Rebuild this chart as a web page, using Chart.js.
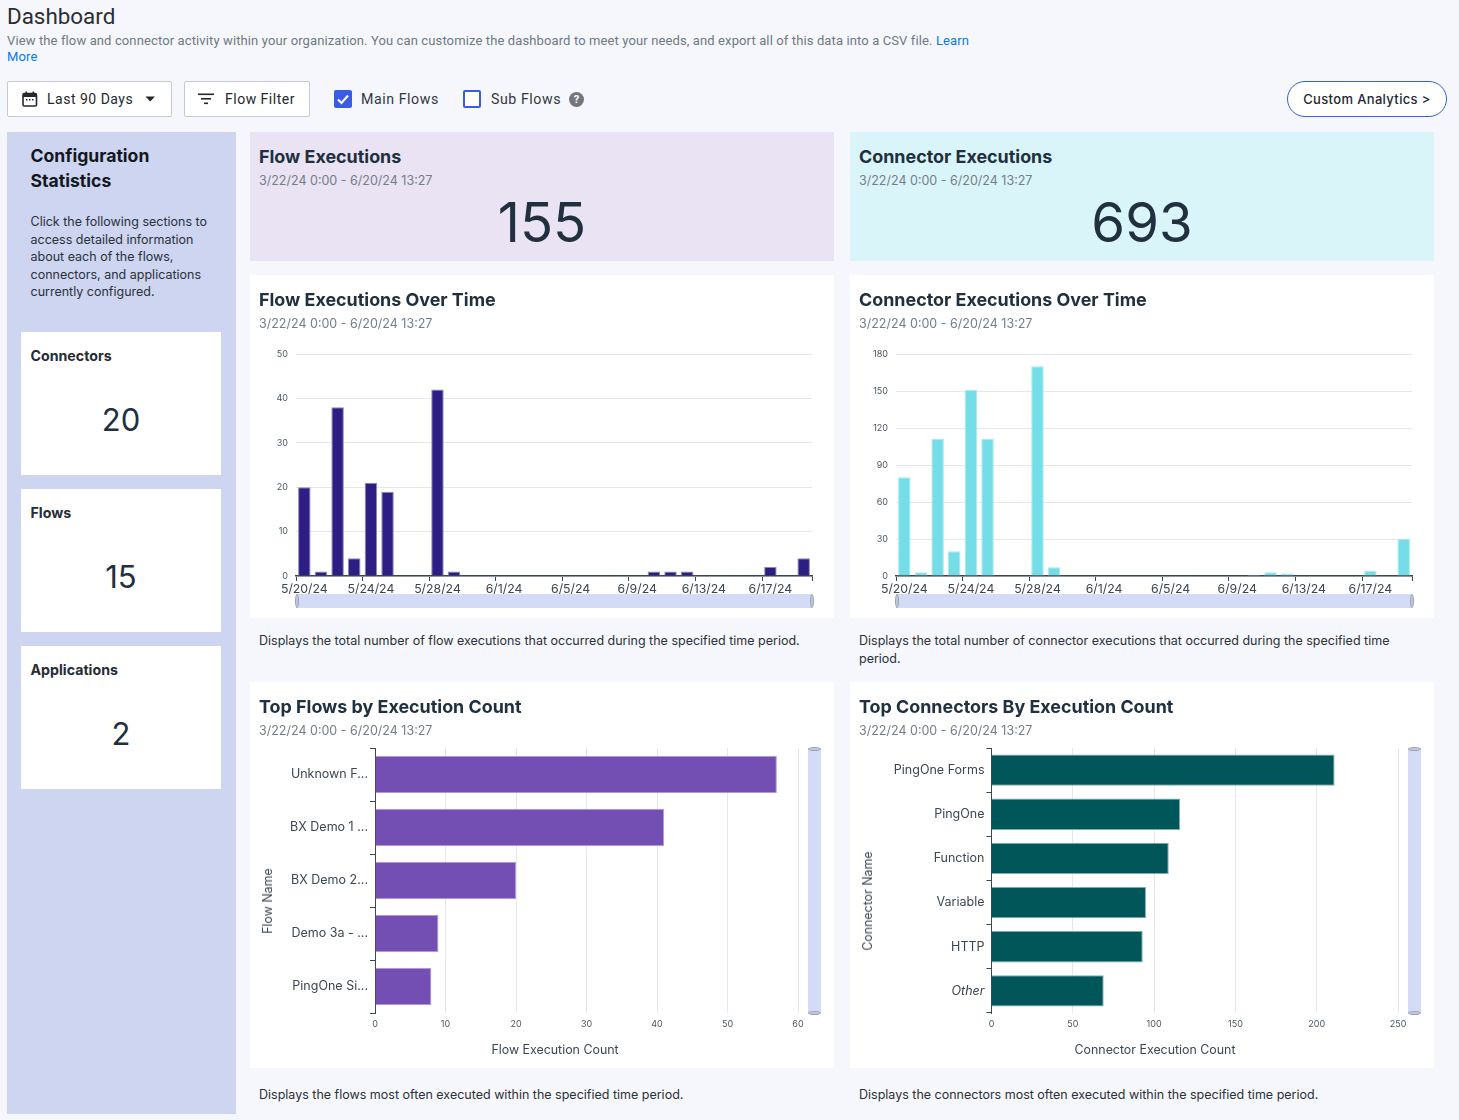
<!DOCTYPE html>
<html><head><meta charset="utf-8">
<script src="https://cdn.jsdelivr.net/npm/chart.js@4"></script>
<style>
html,body{margin:0;padding:0;background:#f6f7fc;width:1459px;height:1120px;overflow:hidden}
body{position:relative;font-family:Inter,sans-serif;color:#1f2d3a}
.a{position:absolute;white-space:nowrap}
.card{position:absolute}
.h{position:absolute;font:700 17.9px/22px Inter,sans-serif;color:#20303f;white-space:nowrap}
.d{position:absolute;font:400 12.5px/16px Inter,sans-serif;color:#757d87;white-space:nowrap;top:0;margin-top:1px}
.p{position:absolute;font:400 12.5px/17.5px Inter,sans-serif;color:#2b3138}
.n{position:absolute;font:400 54.5px/60px Inter,sans-serif;color:#20303f;text-align:center}
.btn{position:absolute;background:#fff;border:1px solid #c6c9d0;border-radius:2px;box-sizing:border-box;height:36px;top:81px;font:400 14px/34px Roboto,sans-serif;letter-spacing:.5px;color:#25282d}
.rb{font:400 14.2px/18px Roboto,sans-serif;letter-spacing:.55px;color:#33373d;position:absolute;top:90px}
.sc{position:absolute;left:21px;width:200px;height:143px;background:#fff}
.sc b{position:absolute;left:9.5px;top:15px;font:700 14.2px/18px Inter,sans-serif;color:#262c34}
.sc span{position:absolute;left:0;width:200px;text-align:center;top:68px;font:400 31px/40px Inter,sans-serif;color:#20303f}
canvas{position:absolute}
.sl{position:absolute;background:#d3dbf7}
.hd{position:absolute;background:#c2c8d8;border:1px solid #9ba3b6;box-sizing:border-box;border-radius:50%}
.at{position:absolute;font:400 12.4px/14px Inter,sans-serif;color:#3c4650;white-space:nowrap}
</style></head><body>
<div class="a" style="left:7px;top:2px;font:400 22.4px/28px Roboto,sans-serif;color:#2a2e33">Dashboard</div>
<div class="a" style="left:7px;top:33px;font:400 13px/16px Roboto,sans-serif;letter-spacing:.12px;color:#6f7982">View the flow and connector activity within your organization. You can customize the dashboard to meet your needs, and export all of this data into a CSV file. <span style="color:#0a78f0">Learn</span></div>
<div class="a" style="left:7px;top:49px;font:400 13px/16px Roboto,sans-serif;letter-spacing:.12px;color:#0a78f0">More</div>

<div class="btn" style="left:7px;width:165px">
 <svg style="position:absolute;left:13px;top:8px" width="18" height="18" viewBox="0 0 18 18"><rect x="2" y="3.5" width="13.5" height="12.5" rx="1.5" fill="none" stroke="#26282c" stroke-width="1.6"/><rect x="2" y="3.5" width="13.5" height="3.5" fill="#26282c"/><rect x="4.5" y="1.5" width="1.6" height="3" fill="#26282c"/><rect x="11.5" y="1.5" width="1.6" height="3" fill="#26282c"/><rect x="5" y="9" width="1.5" height="1.5" fill="#26282c"/><rect x="8" y="9" width="1.5" height="1.5" fill="#26282c"/><rect x="11" y="9" width="1.5" height="1.5" fill="#26282c"/></svg>
 <span style="position:absolute;left:39px">Last 90 Days</span>
 <svg style="position:absolute;left:137px;top:14px" width="11" height="6"><path d="M0.5 0.5H10L5.2 5.5Z" fill="#26282c"/></svg>
</div>
<div class="btn" style="left:184px;width:126px">
 <svg style="position:absolute;left:13px;top:11px" width="16" height="12"><rect x="0" y="0.5" width="16" height="1.6" fill="#26282c"/><rect x="3" y="5" width="10" height="1.6" fill="#26282c"/><rect x="6" y="9.5" width="4" height="1.6" fill="#26282c"/></svg>
 <span style="position:absolute;left:40px">Flow Filter</span>
</div>
<svg style="position:absolute;left:334px;top:90px" width="18" height="18"><rect width="18" height="18" rx="2" fill="#3a5be3"/><path d="M4 9.5L7.5 13L14 5.5" fill="none" stroke="#fff" stroke-width="2"/></svg>
<div class="rb" style="left:361px">Main Flows</div>
<div style="position:absolute;left:463px;top:90px;width:18px;height:18px;box-sizing:border-box;border:2px solid #3a5be3;border-radius:2px;background:#fff"></div>
<div class="rb" style="left:491px">Sub Flows</div>
<div style="position:absolute;left:569px;top:92px;width:15px;height:15px;border-radius:50%;background:#73777d;color:#fff;font:700 11px/15px Roboto,sans-serif;text-align:center">?</div>
<div class="a" style="left:1287px;top:81px;width:160px;height:36px;box-sizing:border-box;border:1px solid #3a5be3;border-radius:18px;background:#fff;text-align:center;font:500 13px/34px Inter,sans-serif;letter-spacing:.35px;color:#25282d">Custom Analytics &gt;</div>

<div class="card" style="left:7px;top:132px;width:229px;height:982px;background:#cdd5f1"></div>
<div class="a" style="left:30.5px;top:143px;font:700 17.6px/25px Inter,sans-serif;color:#14181d">Configuration<br>Statistics</div>
<div class="p" style="left:30.5px;top:213px;white-space:nowrap">Click the following sections to<br>access detailed information<br>about each of the flows,<br>connectors, and applications<br>currently configured.</div>
<div class="sc" style="top:332px"><b>Connectors</b><span>20</span></div>
<div class="sc" style="top:489px"><b>Flows</b><span>15</span></div>
<div class="sc" style="top:646px"><b>Applications</b><span>2</span></div>

<div class="card" style="left:250px;top:132px;width:584px;height:129px;background:#e9e3f3"></div>
<div class="card" style="left:850px;top:132px;width:584px;height:129px;background:#daf5f9"></div>
<div class="h" style="left:259px;top:146px">Flow Executions</div><div class="d" style="left:259px;top:172px">3/22/24 0:00 - 6/20/24 13:27</div>
<div class="n" style="left:250px;width:584px;top:192px">155</div>
<div class="h" style="left:859px;top:146px">Connector Executions</div><div class="d" style="left:859px;top:172px">3/22/24 0:00 - 6/20/24 13:27</div>
<div class="n" style="left:850px;width:584px;top:192px">693</div>

<div class="card" style="left:250px;top:275px;width:584px;height:343px;background:#fff"></div>
<div class="card" style="left:850px;top:275px;width:584px;height:343px;background:#fff"></div>
<canvas id="c1" width="584" height="343" style="left:250px;top:275px;width:584px;height:343px"></canvas>
<canvas id="c2" width="584" height="343" style="left:850px;top:275px;width:584px;height:343px"></canvas>
<div class="h" style="left:259px;top:289px">Flow Executions Over Time</div><div class="d" style="left:259px;top:315px">3/22/24 0:00 - 6/20/24 13:27</div>
<div class="h" style="left:859px;top:289px">Connector Executions Over Time</div><div class="d" style="left:859px;top:315px">3/22/24 0:00 - 6/20/24 13:27</div>
<div class="sl" style="left:296px;top:594px;width:516px;height:14px"></div>
<div class="hd" style="left:294.5px;top:594px;width:4px;height:14px"></div><div class="hd" style="left:809.5px;top:594px;width:4px;height:14px"></div>
<div class="sl" style="left:896px;top:594px;width:516px;height:14px"></div>
<div class="hd" style="left:894.5px;top:594px;width:4px;height:14px"></div><div class="hd" style="left:1409.5px;top:594px;width:4px;height:14px"></div>
<div class="p" style="left:259px;top:632px;white-space:nowrap">Displays the total number of flow executions that occurred during the specified time period.</div>
<div class="p" style="left:859px;top:632px;white-space:nowrap">Displays the total number of connector executions that occurred during the specified time<br>period.</div>

<div class="card" style="left:250px;top:682px;width:584px;height:386px;background:#fff"></div>
<div class="card" style="left:850px;top:682px;width:584px;height:386px;background:#fff"></div>
<canvas id="c3" width="584" height="386" style="left:250px;top:682px;width:584px;height:386px"></canvas>
<canvas id="c4" width="584" height="386" style="left:850px;top:682px;width:584px;height:386px"></canvas>
<div class="h" style="left:259px;top:696px">Top Flows by Execution Count</div><div class="d" style="left:259px;top:722px">3/22/24 0:00 - 6/20/24 13:27</div>
<div class="h" style="left:859px;top:696px">Top Connectors By Execution Count</div><div class="d" style="left:859px;top:722px">3/22/24 0:00 - 6/20/24 13:27</div>
<div class="sl" style="left:808px;top:748px;width:13px;height:265px"></div>
<div class="hd" style="left:808px;top:746.5px;width:13px;height:4px"></div><div class="hd" style="left:808px;top:1010.5px;width:13px;height:4px"></div>
<div class="sl" style="left:1408px;top:748px;width:13px;height:265px"></div>
<div class="hd" style="left:1408px;top:746.5px;width:13px;height:4px"></div><div class="hd" style="left:1408px;top:1010.5px;width:13px;height:4px"></div>
<div class="at" style="left:555px;top:1043px;transform:translateX(-50%)">Flow Execution Count</div>
<div class="at" style="left:1155px;top:1043px;transform:translateX(-50%)">Connector Execution Count</div>
<div class="at" style="left:268px;top:901px;transform:translate(-50%,-50%) rotate(-90deg)">Flow Name</div>
<div class="at" style="left:868px;top:901px;transform:translate(-50%,-50%) rotate(-90deg)">Connector Name</div>
<div class="p" style="left:259px;top:1086px;white-space:nowrap">Displays the flows most often executed within the specified time period.</div>
<div class="p" style="left:859px;top:1086px;white-space:nowrap">Displays the connectors most often executed within the specified time period.</div>

<script>
const dates = ["5/20/24","5/21/24","5/22/24","5/23/24","5/24/24","5/25/24","5/26/24","5/27/24","5/28/24","5/29/24","5/30/24","5/31/24","6/1/24","6/2/24","6/3/24","6/4/24","6/5/24","6/6/24","6/7/24","6/8/24","6/9/24","6/10/24","6/11/24","6/12/24","6/13/24","6/14/24","6/15/24","6/16/24","6/17/24","6/18/24","6/19/24"];
const flowCounts = [20,1,38,4,21,19,0,0,42,1,0,0,0,0,0,0,0,0,0,0,0,1,1,1,0,0,0,0,2,0,4];
const connectorCounts = [80,3,111,20,151,111,0,0,170,7,0,0,0,0,0,0,0,0,0,0,0,1,3,2,0,0,0,0,4,0,30];
const topFlowNames = ["Unknown F...","BX Demo 1 ...","BX Demo 2...","Demo 3a - ...","PingOne Si..."];
const topFlowCounts = [57,41,20,9,8];
const topConnectorNames = ["PingOne Forms","PingOne","Function","Variable","HTTP","Other"];
const topConnectorCounts = [211,116,109,95,93,69];

const GRID = '#e6e6ec', AXIS = '#3b4754', TICK = '#4a5560', INK = '#3c4650';
const FF = 'Inter, sans-serif';

function timeChart(id, data, color, border, max, step) {
  return new Chart(document.getElementById(id), {
    type: 'bar',
    data: { labels: dates, datasets: [{ data, backgroundColor: color, borderColor: border, borderWidth: 1, barPercentage: 0.75, categoryPercentage: 1 }] },
    options: {
      responsive: false, animation: false,
      layout: { padding: { top: 79, right: 22, bottom: 18, left: 0 } },
      plugins: { legend: { display: false }, tooltip: { enabled: false } },
      scales: {
        x: {
          afterFit: s => { s.height = 24; },
          border: { color: AXIS, width: 1.5 },
          grid: { offset: true, drawOnChartArea: false, tickLength: 5, tickWidth: 1,
                  tickColor: c => (c.index === undefined || c.index % 4 === 0) ? AXIS : 'rgba(0,0,0,0)' },
          ticks: { autoSkip: false, maxRotation: 0, padding: 1, color: INK, font: { family: FF, size: 12.3 },
                   callback(v, i) { return i % 4 === 0 ? this.getLabelForValue(v) : ''; } }
        },
        y: {
          min: 0, max,
          afterFit: s => { s.width = 46; },
          border: { display: false },
          grid: { color: GRID, drawTicks: false },
          ticks: { stepSize: step, padding: 8, color: TICK, font: { family: FF, size: 9 } }
        }
      }
    }
  });
}

function topChart(id, labels, data, color, border, max, step, leftArea, rightPad, italicLast) {
  return new Chart(document.getElementById(id), {
    type: 'bar',
    data: { labels, datasets: [{ data, backgroundColor: color, borderColor: border, borderWidth: 1, barPercentage: 0.71, categoryPercentage: 1 }] },
    options: {
      indexAxis: 'y', responsive: false, animation: false,
      layout: { padding: { top: 66, right: rightPad, bottom: 37, left: 0 } },
      plugins: { legend: { display: false }, tooltip: { enabled: false } },
      scales: {
        x: {
          min: 0, max,
          afterFit: s => { s.height = 18; },
          border: { display: false },
          grid: { color: GRID, drawTicks: false },
          ticks: { stepSize: step, padding: 6, maxRotation: 0, color: TICK, font: { family: FF, size: 9 } }
        },
        y: {
          afterFit: s => { s.width = leftArea; },
          border: { color: AXIS, width: 1 },
          grid: { offset: true, drawOnChartArea: false, tickLength: 5, tickColor: AXIS },
          ticks: { autoSkip: false, padding: 2, color: INK,
                   font: c => ({ family: FF, size: 12.5, style: (italicLast && c.index === labels.length - 1) ? 'italic' : 'normal' }) }
        }
      }
    }
  });
}

timeChart('c1', flowCounts, '#2c1e82', '#8d84c4', 50, 10);
timeChart('c2', connectorCounts, '#74dde8', '#a5ebf2', 180, 30);
topChart('c3', topFlowNames, topFlowCounts, '#734fb3', '#b19ad8', 60, 10, 125, 36, false);
topChart('c4', topConnectorNames, topConnectorCounts, '#005659', '#7fadae', 250, 50, 141.5, 36, true);
</script>
</body></html>
